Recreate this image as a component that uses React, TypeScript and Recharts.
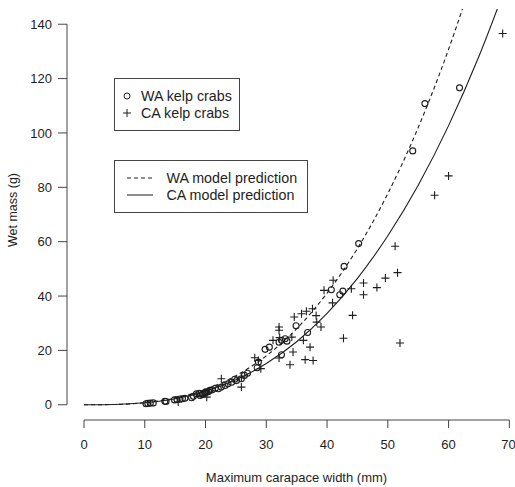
import { ComposedChart, Scatter, Line, XAxis, YAxis, ReferenceLine, Label } from 'recharts';

// ─── data ────────────────────────────────────────────────────────────────────

const waWidth = [
  10.2, 10.5, 10.9, 11.4, 13.3, 13.5, 14.9, 15.3, 15.8, 16.2, 16.6, 17.7, 18.0, 18.5,
  19.1, 19.4, 19.6, 19.9, 20.2, 20.5, 20.7, 21.1, 22.1, 22.6, 23.2, 23.7, 24.3, 25.1,
  25.9, 26.4, 28.5, 28.7, 29.8, 30.5, 32.1, 32.5, 33.1, 33.4, 32.5, 34.9, 36.8, 40.7,
  42.1, 42.6, 42.8, 45.2, 54.1, 56.1, 61.8, 19.0, 20.0, 21.6, 24.8, 26.9,
];
const waMass = [
  0.4, 0.5, 0.6, 0.7, 1.3, 1.2, 1.8, 1.9, 2.1, 2.2, 2.4, 2.6, 3.1, 4.0,
  3.4, 3.8, 4.0, 4.3, 4.6, 4.9, 5.3, 5.5, 5.9, 6.5, 7.1, 7.7, 8.3, 8.9,
  9.6, 10.8, 13.6, 15.7, 20.4, 21.2, 23.0, 23.7, 24.3, 23.4, 18.4, 29.1, 26.6, 42.3,
  40.5, 41.8, 50.9, 59.3, 93.4, 110.8, 116.6, 4.2, 4.8, 6.1, 9.4, 11.6,
];

const caWidth = [
  15.5, 20.2, 22.6, 25.9, 25.9, 28.1, 28.7, 29.1, 31.1, 32.1, 32.1, 32.2, 32.1, 33.9,
  34.2, 34.4, 34.6, 35.8, 36.6, 37.6, 38.2, 38.3, 39.0, 36.1, 37.2, 36.4, 37.7, 39.5,
  41.0, 40.9, 42.7, 44.0, 44.2, 46.0, 46.0, 48.2, 49.6, 51.2, 51.6, 52.0, 57.7, 60.0,
  68.9,
];
const caMass = [
  1.0, 2.8, 9.6, 6.5, 10.2, 17.3, 16.3, 13.3, 23.7, 28.6, 27.4, 24.7, 17.2, 14.7,
  24.9, 19.4, 32.3, 33.5, 34.4, 35.3, 32.8, 30.4, 28.6, 23.7, 21.2, 16.6, 16.3, 42.1,
  45.8, 37.5, 24.5, 42.7, 32.9, 44.8, 40.5, 43.1, 46.6, 58.3, 48.6, 22.7, 77.1, 84.2,
  136.6,
];

// model prediction curves, sampled every 5 mm
const curveWidth = [0, 5, 10, 15, 20, 25, 30, 35, 40, 45, 50, 55, 60, 65, 70];
const waPrediction = [0, 0.11, 0.78, 2.48, 5.65, 10.7, 18.0, 28.0, 41.1, 57.5, 77.7, 102, 130.8, 164.6, 203];
const caPrediction = [0, 0.11, 0.73, 2.24, 4.95, 9.17, 15.2, 23.2, 33.6, 46.5, 62.2, 80.8, 102.7, 128.2, 157.5];

const xTicks = [0, 10, 20, 30, 40, 50, 60, 70];
const yTicks = [0, 20, 40, 60, 80, 100, 120, 140];

const waPoints = waWidth.map((x, i) => ({ x, y: waMass[i] }));
const caPoints = caWidth.map((x, i) => ({ x, y: caMass[i] }));
const waCurve = curveWidth.map((x, i) => ({ x, y: waPrediction[i] }));
const caCurve = curveWidth.map((x, i) => ({ x, y: caPrediction[i] }));

// ─── style ───────────────────────────────────────────────────────────────────

const FONT = '"Liberation Sans", Arial, Helvetica, sans-serif';
const INK = '#1e1e1e';
const AXIS = '#444';

const OpenCircle = (props: any) => (
  <circle cx={props.cx} cy={props.cy} r={3} fill="none" stroke={INK} strokeWidth={1.1} />
);

const Plus = (props: any) => (
  <path
    d={`M${props.cx - 4},${props.cy}h8M${props.cx},${props.cy - 4}v8`}
    stroke={INK}
    strokeWidth={1.1}
    fill="none"
  />
);

function LegendBoxes() {
  return (
    <svg
      width={515}
      height={487}
      style={{ position: 'absolute', left: 0, top: 0, pointerEvents: 'none', fontFamily: FONT }}
    >
      <rect x={114.5} y={78.5} width={125} height={52} fill="#fff" stroke={AXIS} />
      <circle cx={127} cy={96} r={3} fill="none" stroke={INK} />
      <text x={141} y={101} fontSize={14.3} fill={INK}>WA kelp crabs</text>
      <path d="M123,113h8M127,109v8" stroke={INK} />
      <text x={141} y={118} fontSize={14.3} fill={INK}>CA kelp crabs</text>

      <rect x={114.5} y={160.5} width={193} height={52} fill="#fff" stroke={AXIS} />
      <line x1={127} x2={153} y1={178} y2={178} stroke={INK} strokeDasharray="4 3" />
      <text x={166.5} y={183} fontSize={14.3} fill={INK}>WA model prediction</text>
      <line x1={127} x2={153} y1={195} y2={195} stroke={INK} />
      <text x={166.5} y={200} fontSize={14.3} fill={INK}>CA model prediction</text>
    </svg>
  );
}

export default function App() {
  return (
    <div
      style={{
        position: 'absolute',
        left: 0,
        top: 0,
        width: 515,
        height: 487,
        background: '#fff',
        fontFamily: FONT,
        overflow: 'hidden',
      }}
    >
      <ComposedChart width={515} height={487} margin={{ top: 9, right: 0, bottom: 6, left: 7 }}>
        <XAxis
          type="number"
          dataKey="x"
          domain={[-2.8, 70.93]}
          ticks={xTicks}
          allowDataOverflow
          axisLine={false}
          tickLine={{ stroke: AXIS }}
          tickSize={8}
          tickMargin={12}
          height={61}
          tick={{ fontSize: 13, fill: INK }}
        >
          <Label
            content={() => (
              <text x={296.5} y={482} textAnchor="middle" fontSize={13} fill={INK}>
                Maximum carapace width (mm)
              </text>
            )}
          />
        </XAxis>
        <YAxis
          type="number"
          dataKey="y"
          domain={[-5.6, 145.6]}
          ticks={yTicks}
          allowDataOverflow
          axisLine={false}
          tickLine={{ stroke: AXIS }}
          tickSize={9}
          tickMargin={6}
          width={60}
          tick={{ fontSize: 13, fill: INK }}
        >
          <Label
            content={() => (
              <text
                x={17}
                y={210}
                textAnchor="middle"
                fontSize={12.5}
                fill={INK}
                transform="rotate(-90 17 210)"
              >
                Wet mass (g)
              </text>
            )}
          />
        </YAxis>

        {/* R-style axis lines that stop at the outer ticks */}
        <ReferenceLine segment={[{ x: -2.8, y: 0 }, { x: -2.8, y: 140 }]} stroke={AXIS} />
        <ReferenceLine segment={[{ x: 0, y: -5.6 }, { x: 70, y: -5.6 }]} stroke={AXIS} />

        <Line
          data={waCurve}
          dataKey="y"
          type="monotone"
          stroke={INK}
          strokeWidth={1.1}
          strokeDasharray="4 3"
          dot={false}
          activeDot={false}
          isAnimationActive={false}
        />
        <Line
          data={caCurve}
          dataKey="y"
          type="monotone"
          stroke={INK}
          strokeWidth={1.1}
          dot={false}
          activeDot={false}
          isAnimationActive={false}
        />
        <Scatter data={waPoints} dataKey="y" shape={OpenCircle} isAnimationActive={false} />
        <Scatter data={caPoints} dataKey="y" shape={Plus} isAnimationActive={false} />
      </ComposedChart>
      <LegendBoxes />
    </div>
  );
}
